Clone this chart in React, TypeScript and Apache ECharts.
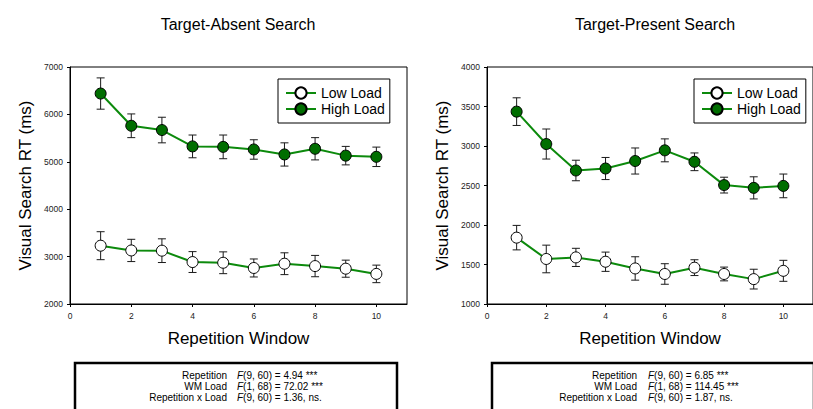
import React, { useEffect, useRef } from "react";
import * as echarts from "echarts";

const windows = [1, 2, 3, 4, 5, 6, 7, 8, 9, 10];
const absentLow = [3230, 3130, 3125, 2885, 2870, 2760, 2850, 2800, 2745, 2635];
const absentLowSE = [295, 235, 250, 220, 230, 190, 230, 225, 180, 185];
const absentHigh = [6440, 5760, 5670, 5325, 5315, 5260, 5155, 5275, 5130, 5105];
const absentHighSE = [330, 250, 270, 240, 250, 205, 245, 235, 195, 205];
const presentLow = [1840, 1570, 1590, 1535, 1450, 1380, 1460, 1380, 1315, 1420];
const presentLowSE = [155, 175, 115, 122, 148, 130, 100, 87, 125, 133];
const presentHigh = [3435, 3025, 2690, 2715, 2810, 2945, 2800, 2505, 2470, 2495];
const presentHighSE = [175, 190, 130, 140, 165, 145, 112, 100, 140, 150];

const panelTitles = ["Target-Absent Search", "Target-Present Search"];
const seriesNames = ["Low Load", "High Load"];
const statLabels = ["Repetition", "WM Load", "Repetition x Load"];
const absentStats = ["(9, 60) = 4.94 ***", "(1, 68) = 72.02 ***", "(9, 60) = 1.36, ns."];
const presentStats = ["(9, 60) = 6.85 ***", "(1, 68) = 114.45 ***", "(9, 60) = 1.87, ns."];

const FONT = "'Liberation Sans', Arial, Helvetica, sans-serif";
const LINE_GREEN = "#0c8a0c";
const FILL_GREEN = "#006e00";

const renderErr = (params: any, api: any) => {
  const x = api.value(0);
  const lo = api.coord([x, api.value(1)]);
  const hi = api.coord([x, api.value(2)]);
  const w = 4;
  const style = { stroke: "#1a1a1a", lineWidth: 1 };
  return {
    type: "group",
    children: [
      { type: "line", shape: { x1: hi[0], y1: hi[1], x2: lo[0], y2: lo[1] }, style },
      { type: "line", shape: { x1: hi[0] - w, y1: hi[1], x2: hi[0] + w, y2: hi[1] }, style },
      { type: "line", shape: { x1: lo[0] - w, y1: lo[1], x2: lo[0] + w, y2: lo[1] }, style },
    ],
  };
};

export default function App() {
  const ref = useRef<HTMLDivElement>(null);
  useEffect(() => {
    document.body.style.margin = "0";
    if (!ref.current) return;
    const chart = echarts.init(ref.current, null, { renderer: "svg" });

    const grids = [
      { left: 70, top: 67, width: 337, height: 237 },
      { left: 487, top: 67, width: 336, height: 237 },
    ];
    const yRanges = [
      { min: 2000, max: 7000, interval: 1000 },
      { min: 1000, max: 4000, interval: 500 },
    ];
    const panels = [
      { low: absentLow, lowSE: absentLowSE, high: absentHigh, highSE: absentHighSE, stats: absentStats },
      { low: presentLow, lowSE: presentLowSE, high: presentHigh, highSE: presentHighSE, stats: presentStats },
    ];

    const xAxes = grids.map((_, i) => ({
      type: "value",
      gridIndex: i,
      min: 0,
      max: 11,
      interval: 2,
      name: "Repetition Window",
      nameLocation: "middle",
      nameGap: 26,
      nameTextStyle: { fontFamily: FONT, fontSize: 17, color: "#000" },
      axisLine: { show: true, lineStyle: { color: "#000", width: 1 } },
      axisTick: { show: true, length: 3, lineStyle: { color: "#000" } },
      axisLabel: {
        fontFamily: FONT,
        fontSize: 8.5,
        color: "#222",
        margin: 7,
        showMaxLabel: false,
        formatter: (v: number) => (v > 10 ? "" : String(v)),
      },
      splitLine: { show: false },
    }));

    const yAxes = grids.map((_, i) => ({
      type: "value",
      gridIndex: i,
      min: yRanges[i].min,
      max: yRanges[i].max,
      interval: yRanges[i].interval,
      name: "Visual Search RT (ms)",
      nameLocation: "middle",
      nameGap: 36,
      nameTextStyle: { fontFamily: FONT, fontSize: 17, color: "#000" },
      axisLine: { show: true, lineStyle: { color: "#000", width: 1 } },
      axisTick: { show: true, length: 3, lineStyle: { color: "#000" } },
      axisLabel: {
        fontFamily: FONT,
        fontSize: 8.5,
        color: "#222",
        margin: 7,
        formatter: (v: number) => String(v),
      },
      splitLine: { show: false },
    }));

    const series: any[] = [];
    panels.forEach((p, i) => {
      const groups = [
        { name: seriesNames[0], vals: p.low, se: p.lowSE, fill: "#ffffff" },
        { name: seriesNames[1], vals: p.high, se: p.highSE, fill: FILL_GREEN },
      ];
      groups.forEach((g) => {
        series.push({
          type: "custom",
          xAxisIndex: i,
          yAxisIndex: i,
          z: 2,
          silent: true,
          renderItem: renderErr,
          data: windows.map((w, k) => [w, g.vals[k] - g.se[k], g.vals[k] + g.se[k]]),
        });
        series.push({
          type: "line",
          name: g.name,
          xAxisIndex: i,
          yAxisIndex: i,
          z: 3,
          symbol: "circle",
          symbolSize: 11,
          lineStyle: { color: LINE_GREEN, width: 2 },
          itemStyle: { color: g.fill, borderColor: "#000", borderWidth: 1 },
          data: windows.map((w, k) => [w, g.vals[k]]),
        });
      });
    });

    const legends = [278, 694].map((left) => ({
      data: seriesNames,
      left,
      top: 79,
      orient: "vertical",
      itemWidth: 30,
      itemHeight: 14,
      itemGap: 2,
      padding: [7, 5, 7, 7],
      borderColor: "#000",
      borderWidth: 1,
      backgroundColor: "#fff",
      selectedMode: false,
      textStyle: { fontFamily: FONT, fontSize: 14, color: "#000" },
    }));

    const titleCenters = [238, 655];
    const graphics: any[] = [];
    panelTitles.forEach((t, i) => {
      graphics.push({
        type: "text",
        x: titleCenters[i],
        y: 24,
        style: {
          text: t,
          font: `16px ${FONT}`,
          fill: "#000",
          textAlign: "center",
          textVerticalAlign: "middle",
          align: "center",
          verticalAlign: "middle",
        },
      });
    });

    const boxes = [
      { x: 75, labelX: 227, valueX: 237 },
      { x: 492, labelX: 637, valueX: 648 },
    ];
    const rowY = [375.5, 386.5, 397.5];
    boxes.forEach((b, i) => {
      graphics.push({
        type: "rect",
        shape: { x: b.x, y: 363, width: 322, height: 60 },
        style: { fill: "#fff", stroke: "#000", lineWidth: 2.5 },
      });
      statLabels.forEach((lab, r) => {
        graphics.push({
          type: "text",
          x: b.labelX,
          y: rowY[r],
          style: {
            text: lab,
            font: `10px ${FONT}`,
            fill: "#000",
            lineHeight: 10,
            textAlign: "right",
            textVerticalAlign: "middle",
            align: "right",
            verticalAlign: "middle",
          },
        });
        graphics.push({
          type: "text",
          x: b.valueX,
          y: rowY[r],
          style: {
            text: `{i|F}{n|${panels[i].stats[r]}}`,
            fill: "#000",
            textAlign: "left",
            textVerticalAlign: "middle",
            align: "left",
            verticalAlign: "middle",
            rich: {
              i: { fontFamily: FONT, fontSize: 10, lineHeight: 10, fontStyle: "italic", fill: "#000" },
              n: { fontFamily: FONT, fontSize: 10, lineHeight: 10, fill: "#000" },
            },
          },
        });
      });
    });

    chart.setOption({
      animation: false,
      backgroundColor: "#fff",
      textStyle: { fontFamily: FONT },
      grid: grids.map((g) => ({ ...g, show: true, borderColor: "#000", borderWidth: 1, backgroundColor: "transparent" })),
      xAxis: xAxes,
      yAxis: yAxes,
      legend: legends,
      series,
      graphic: graphics,
    });

    return () => chart.dispose();
  }, []);

  return <div ref={ref} style={{ width: 813, height: 409 }} />;
}
